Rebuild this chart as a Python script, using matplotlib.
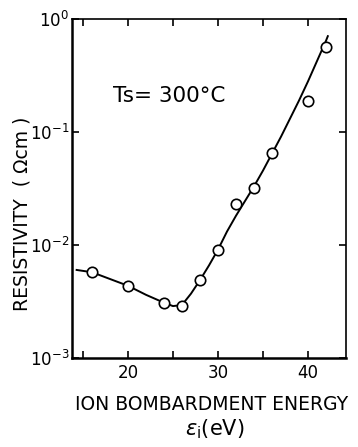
import numpy as np
import matplotlib
matplotlib.use("Agg")
import matplotlib.pyplot as plt
from matplotlib.ticker import FixedLocator, NullLocator

# Measured data points
energy = [16, 20, 24, 26, 28, 30, 32, 34, 36, 40, 42]
resistivity = [5.8e-3, 4.35e-3, 3.1e-3, 2.9e-3, 4.9e-3, 9.0e-3, 2.3e-2, 3.2e-2, 6.5e-2, 0.19, 0.57]

# Drawn fit curve
curve_x = [14.3, 16, 18, 20, 22, 24, 25, 26, 27, 28, 29, 30, 31, 32, 33, 34, 35, 36, 37, 38, 39, 40, 41, 42, 42.2]
curve_log = [-2.22, -2.24, -2.30, -2.36, -2.44, -2.51, -2.54, -2.53, -2.43, -2.31, -2.18, -2.04,
             -1.88, -1.74, -1.61, -1.48, -1.34, -1.19, -1.04, -0.88, -0.72, -0.55, -0.37, -0.19, -0.15]
curve_y = [10 ** v for v in curve_log]

x_major = [15, 20, 25, 30, 35, 40]
x_labels = ["", "20", "", "30", "", "40"]
y_major = [1e-3, 1e-2, 1e-1, 1e0]
y_labels = [r"$10^{-3}$", r"$10^{-2}$", r"$10^{-1}$", r"$10^{0}$"]

plt.rcParams['font.family'] = ['DejaVu Sans']
plt.rcParams['mathtext.fontset'] = 'dejavusans'

fig = plt.figure(figsize=(3.58, 4.47), dpi=100)
ax = fig.add_axes([0.201, 0.199, 0.765, 0.758])

ax.plot(curve_x, curve_y, color='black', lw=1.4, zorder=2)
ax.plot(energy, resistivity, 'o', mfc='white', mec='black', ms=7.5, mew=1.2, zorder=3)

ax.set_yscale('log')
ax.set_xlim(13.78, 44.2)
ax.set_ylim(1e-3, 1e0)

ax.xaxis.set_major_locator(FixedLocator(x_major))
ax.set_xticklabels(x_labels)
ax.xaxis.set_minor_locator(NullLocator())
ax.yaxis.set_major_locator(FixedLocator(y_major))
ax.set_yticklabels(y_labels)
ax.yaxis.set_minor_locator(NullLocator())

ax.tick_params(axis='both', which='major', direction='in', length=5, width=1.2,
               labelsize=12, top=True, right=True, pad=4)
ax.tick_params(axis='y', pad=2)

for side in ['left', 'bottom']:
    ax.spines[side].set_linewidth(1.8)
for side in ['right', 'top']:
    ax.spines[side].set_linewidth(1.2)

fig.text(0.59, 0.083, "ION BOMBARDMENT ENERGY", ha='center', va='baseline', fontsize=13.5)
fig.text(0.60, 0.025, r"$\varepsilon_{\mathrm{i}}$(eV)", ha='center', va='baseline', fontsize=15)
fig.text(0.062, 0.522, "RESISTIVITY  ( Ωcm )", rotation=90, ha='center', va='center', fontsize=13.5)
ax.text(0.15, 0.757, "Ts= 300°C", transform=ax.transAxes, ha='left', va='baseline', fontsize=15.5)

fig.savefig("out.png", dpi=100)
